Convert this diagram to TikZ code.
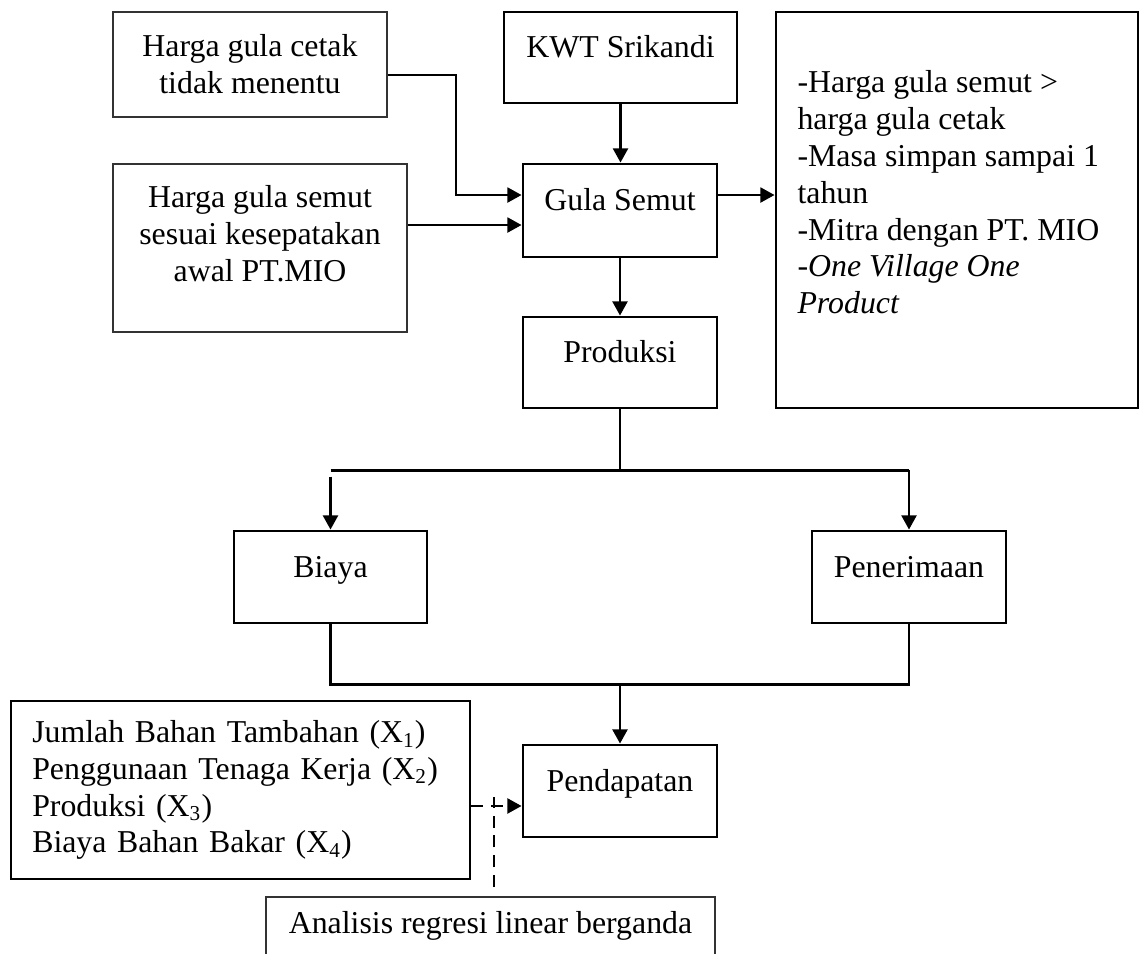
\documentclass[tikz,border=0pt]{standalone}
\usepackage{fontspec}
\setmainfont{Liberation Serif}
\usepackage{xcolor}
\usepackage{tikz}
\usetikzlibrary{arrows.meta}
\newcommand{\skala}{0.377pt}

\begin{document}
\begin{tikzpicture}[x=\skala, y=-\skala,
    every node/.style={font=\fontsize{12pt}{13.9pt}\selectfont},
    kotak/.style={rectangle, draw, line width=1.1pt, inner sep=0pt},
    tipis/.style={rectangle, draw=black!80, line width=0.6pt, inner sep=0pt},
    ukuran/.style 2 args={minimum width=#1*\skala, minimum height=#2*\skala},
    atas/.style={text height=9pt, text depth=9pt},
    garis/.style={line width=0.9pt},
    panah/.style={line width=0.9pt, -{Triangle[length=5.3pt, width=5.6pt]}},
    putus/.style={dash pattern=on 4.5pt off 3pt}]
    \clip (0,0) rectangle (1139,953);

    \node(cetak) [tipis, ukuran={274}{105}, align=center] at (250,64.5) {Harga gula cetak\\tidak menentu};
    \node(kwt) [kotak, ukuran={233}{91}, atas] at (620.5,57.5) {KWT Srikandi};
    \node(ket) [kotak, ukuran={362}{396}] at (957,210) {};
    \node(ketisi) [anchor=north west, align=left, inner sep=0pt] at (797,70) {-Harga gula semut >\\harga gula cetak\\-Masa simpan sampai 1\\tahun\\-Mitra dengan PT. MIO\\-\textit{One Village One}\\\textit{Product}};
    \node(hargasemut) [tipis, ukuran={294}{168}] at (260,248) {};
    \node(hargasemutisi) [align=center, inner sep=0pt] at ([yshift=5.3pt]hargasemut.center) {Harga gula semut\\sesuai kesepatakan\\awal PT.MIO};
    \node(gulasemut) [kotak, ukuran={194}{93}, atas] at (620,210.5) {Gula Semut};
    \node(produksi) [kotak, ukuran={194}{91}, atas] at (620,362.5) {Produksi};
    \node(biaya) [kotak, ukuran={193}{92}, atas] at (330.5,577) {Biaya};
    \node(penerimaan) [kotak, ukuran={194}{92}, atas] at (909,577) {Penerimaan};
    \node(pendapatan) [kotak, ukuran={194}{92}, atas] at (620,791) {Pendapatan};
    \node(variabel) [kotak, ukuran={459}{178}, align=left, text width=157pt] at (240.5,790) {Jumlah Bahan Tambahan (X\textsubscript{1})\\Penggunaan Tenaga Kerja (X\textsubscript{2})\\Produksi (X\textsubscript{3})\\Biaya Bahan Bakar (X\textsubscript{4})};
    \node(analisis) [tipis, ukuran={449}{58}] at (490.5,926) {Analisis regresi linear berganda};

    \draw[panah] ([yshift=-3.96pt]cetak.east) -- ++(68,0) |- ([yshift=5.84pt]gulasemut.west);
    \draw[panah] ([yshift=-5.47pt]gulasemut.west -| hargasemut.east) -- ([yshift=-5.47pt]gulasemut.west);
    \draw[panah] (kwt.south) -- (kwt.south |- gulasemut.north);
    \draw[panah] ([yshift=5.84pt]gulasemut.east) -- ([yshift=5.84pt]gulasemut.east -| ket.west);
    \draw[panah] (gulasemut.south) -- (produksi.north);

    \draw[garis] (produksi.south) -- ++(0,61) coordinate (cabang);
    \draw[garis] (biaya.north |- cabang) -- (penerimaan.north |- cabang);
    \draw[panah, shorten <=2.3pt] (biaya.north |- cabang) -- (biaya.north);
    \draw[panah] (penerimaan.north |- cabang) -- (penerimaan.north);

    \draw[garis] (biaya.south) -- ++(0,60) coordinate (gabung) -| (penerimaan.south);
    \draw[panah] (gabung -| pendapatan.north) -- (pendapatan.north);

    \draw[panah, putus] ([yshift=-5.65pt]pendapatan.west -| variabel.east) coordinate (putusawal) -- ([yshift=-5.65pt]pendapatan.west);
    \draw[garis, putus] ([shift={(3.5,-9)}]analisis.north) -- ([shift={(3.5,-9)}]analisis.north |- putusawal);
\end{tikzpicture}
\end{document}
